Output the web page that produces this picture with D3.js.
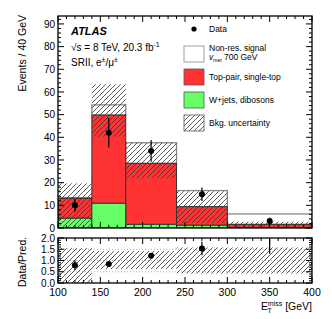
<!DOCTYPE html>
<html><head><meta charset="utf-8">
<script src="https://cdn.jsdelivr.net/npm/d3@7"></script>
<style>
html,body{margin:0;padding:0;background:#fff;}
svg{display:block;font-family:"Liberation Sans",Arial,sans-serif;}
</style></head>
<body><svg id="c" width="332" height="319"></svg>
<script>
// ---- data ----
const binEdges = [100, 140, 180, 240, 300, 400];
const wjets    = [4.3, 10.9, 1.6, 1.2, 0.2];
const topPair  = [8.8, 38.9, 26.9, 8.2, 1.4];
const signal   = [0.3, 4.5, 9.1, 7.1, 4.6];
const bkgUp    = [19.7, 63.4, 37.6, 16.2, 2.8];
const bkgDown  = [0.0, 40.3, 21.9, 2.1, 0.1];
const dataX    = [120, 160, 210, 270, 350];
const dataY    = [10.0, 42.0, 34.0, 14.9, 3.1];
const dataErrUp   = [2.8, 6.5, 4.8, 3.0, 1.4];
const dataErrDown = [2.8, 6.5, 4.8, 3.0, 1.8];
const ratioY      = [0.79, 0.84, 1.21, 1.53, 2.3];
const ratioErr    = [0.22, 0.07, 0.11, 0.30, 1.0];
const ratioBandLo = [0.0, 0.62, 0.62, 0.42, 0.42];
const ratioBandHi = [1.55, 1.42, 1.42, 1.58, 1.58];
const yTicksMain  = [0,10,20,30,40,50,60,70,80,90];
const yTicksRatio = [0.0,0.5,1.0,1.5,2.0];
const xTicks      = [100,150,200,250,300,350,400];

// ---- layout ----
const svg = d3.select("#c");
const L=58, R=312, mT=16, mB=228, rT=238, rB=283;
const x = d3.scaleLinear().domain([100,400]).range([L,R]);
const y = d3.scaleLinear().domain([0,93.5]).range([mB,mT]);
const yr = d3.scaleLinear().domain([0,2]).range([rB,rT]);
const RED="#ff3333", GREEN="#66ff66";

const defs = svg.append("defs");
const pat = defs.append("pattern").attr("id","hatch").attr("patternUnits","userSpaceOnUse")
  .attr("width",5).attr("height",5);
pat.append("path").attr("d","M-1,1 L1,-1 M0,5 L5,0 M4,6 L6,4")
  .attr("stroke","#333").attr("stroke-width",0.8);
defs.append("clipPath").attr("id","clipM").append("rect").attr("x",L).attr("y",mT).attr("width",R-L).attr("height",mB-mT);
defs.append("clipPath").attr("id","clipR").append("rect").attr("x",L).attr("y",rT).attr("width",R-L).attr("height",rB-rT);

const bins = d3.range(5).map(i=>({i, x0:binEdges[i], x1:binEdges[i+1]}));

// ---- main pane ----
const gm = svg.append("g").attr("clip-path","url(#clipM)");
gm.selectAll(".sig").data(bins).join("rect")
  .attr("x",d=>x(d.x0)).attr("width",d=>x(d.x1)-x(d.x0))
  .attr("y",d=>y(wjets[d.i]+topPair[d.i]+signal[d.i]))
  .attr("height",d=>y(wjets[d.i]+topPair[d.i])-y(wjets[d.i]+topPair[d.i]+signal[d.i]))
  .attr("fill","#fff").attr("stroke","#888").attr("stroke-width",1.3);
gm.selectAll(".top").data(bins).join("rect")
  .attr("x",d=>x(d.x0)).attr("width",d=>x(d.x1)-x(d.x0))
  .attr("y",d=>y(wjets[d.i]+topPair[d.i]))
  .attr("height",d=>y(wjets[d.i])-y(wjets[d.i]+topPair[d.i]))
  .attr("fill",RED).attr("stroke","#333").attr("stroke-width",1);
gm.selectAll(".wj").data(bins).join("rect")
  .attr("x",d=>x(d.x0)).attr("width",d=>x(d.x1)-x(d.x0))
  .attr("y",d=>y(wjets[d.i]))
  .attr("height",d=>y(0)-y(wjets[d.i]))
  .attr("fill",GREEN).attr("stroke","#333").attr("stroke-width",1);
gm.selectAll(".unc").data(bins).join("rect")
  .attr("x",d=>x(d.x0)).attr("width",d=>x(d.x1)-x(d.x0))
  .attr("y",d=>y(bkgUp[d.i]))
  .attr("height",d=>y(bkgDown[d.i])-y(bkgUp[d.i]))
  .attr("fill","url(#hatch)");
gm.selectAll(".eb").data(bins).join("line")
  .attr("x1",d=>x(dataX[d.i])).attr("x2",d=>x(dataX[d.i]))
  .attr("y1",d=>y(dataY[d.i]+dataErrUp[d.i])).attr("y2",d=>y(dataY[d.i]-dataErrDown[d.i]))
  .attr("stroke","#000").attr("stroke-width",1.2);
gm.selectAll(".pt").data(bins).join("circle")
  .attr("cx",d=>x(dataX[d.i])).attr("cy",d=>y(dataY[d.i])).attr("r",3).attr("fill","#000");

// ---- ratio pane ----
const gr = svg.append("g").attr("clip-path","url(#clipR)");
[0.5,1.0,1.5].forEach(v=>{
  gr.append("line").attr("x1",L).attr("x2",R).attr("y1",yr(v)).attr("y2",yr(v))
    .attr("stroke","#999").attr("stroke-width",0.8).attr("stroke-dasharray","1,2");
});
gr.selectAll(".runc").data(bins).join("rect")
  .attr("x",d=>x(d.x0)).attr("width",d=>x(d.x1)-x(d.x0))
  .attr("y",d=>yr(ratioBandHi[d.i]))
  .attr("height",d=>yr(ratioBandLo[d.i])-yr(ratioBandHi[d.i]))
  .attr("fill","url(#hatch)");
gr.selectAll(".reb").data(bins).join("line")
  .attr("x1",d=>x(dataX[d.i])).attr("x2",d=>x(dataX[d.i]))
  .attr("y1",d=>yr(ratioY[d.i]+ratioErr[d.i])).attr("y2",d=>yr(ratioY[d.i]-ratioErr[d.i]))
  .attr("stroke","#000").attr("stroke-width",1.2);
gr.selectAll(".rpt").data(bins).join("circle")
  .attr("cx",d=>x(dataX[d.i])).attr("cy",d=>yr(ratioY[d.i])).attr("r",3).attr("fill","#000");

// ---- axes / frames ----
function frame(top,bot,ys,majorY,minorY){
  svg.append("rect").attr("x",L).attr("y",top).attr("width",R-L).attr("height",bot-top)
    .attr("fill","none").attr("stroke","#000").attr("stroke-width",1.3);
  const g = svg.append("g").attr("stroke","#000").attr("stroke-width",1);
  const [d0,d1] = ys.domain();
  const nMin = Math.round((d1-d0)/minorY);
  for(let k=0;k<=nMin;k++){
    const v = d0 + k*minorY; if(v>d1+1e-9) break;
    const isMaj = Math.abs(v/majorY - Math.round(v/majorY))<1e-6;
    const len = isMaj?6:3;
    g.append("line").attr("x1",L).attr("x2",L+len).attr("y1",ys(v)).attr("y2",ys(v));
    g.append("line").attr("x1",R).attr("x2",R-len).attr("y1",ys(v)).attr("y2",ys(v));
  }
  for(let v=100; v<=400; v+=10){
    const isMaj = v%50===0; const len = isMaj?6:3;
    g.append("line").attr("x1",x(v)).attr("x2",x(v)).attr("y1",bot).attr("y2",bot-len);
    g.append("line").attr("x1",x(v)).attr("x2",x(v)).attr("y1",top).attr("y2",top+len);
  }
}
frame(mT,mB,y,10,2);
frame(rT,rB,yr,0.5,0.1);

const tl = svg.append("g").attr("font-size","10px").attr("fill","#000");
tl.selectAll(".ym").data(yTicksMain).join("text")
  .attr("x",L-3).attr("y",d=>y(d)).attr("dy","0.36em").attr("text-anchor","end").text(d=>d);
tl.selectAll(".yr").data(yTicksRatio).join("text")
  .attr("x",L-3).attr("y",d=>yr(d)).attr("dy","0.36em").attr("text-anchor","end").text(d=>d.toFixed(1));
tl.selectAll(".xt").data(xTicks).join("text")
  .attr("x",d=>x(d)).attr("y",rB+13).attr("text-anchor","middle").attr("font-size","10.5px").text(d=>d);

// axis titles
svg.append("text").attr("transform","translate(26,15) rotate(-90)").attr("text-anchor","end")
  .attr("font-size","10.5px").text("Events / 40 GeV");
svg.append("text").attr("transform","translate(26,287) rotate(-90)").attr("text-anchor","start")
  .attr("font-size","10.5px").text("Data/Pred.");
const xt = svg.append("text").attr("x",R).attr("y",310).attr("text-anchor","end").attr("font-size","10.5px");
xt.append("tspan").text("E");
xt.append("tspan").attr("font-size","7px").attr("dy","2.5").attr("dx","-0.5").text("T");
xt.append("tspan").attr("font-size","7px").attr("dy","-7").attr("dx","-4").text("miss");
xt.append("tspan").attr("dy","4.5").text(" [GeV]");

// labels
svg.append("text").attr("x",71).attr("y",35).attr("font-size","11px").attr("font-weight","bold")
  .attr("font-style","italic").text("ATLAS");
const t2 = svg.append("text").attr("x",71).attr("y",51).attr("font-size","10px");
t2.append("tspan").text("√s = 8 TeV, 20.3 fb");
t2.append("tspan").attr("font-size","7px").attr("dy","-4").text("-1");
const t3 = svg.append("text").attr("x",71).attr("y",66).attr("font-size","10px");
t3.append("tspan").text("SRII, e");
t3.append("tspan").attr("font-size","7px").attr("dy","-4").text("±");
t3.append("tspan").attr("dy","4").text("/μ");
t3.append("tspan").attr("font-size","7px").attr("dy","-4").text("±");

// legend
const lg = svg.append("g").attr("font-size","8.5px");
lg.append("circle").attr("cx",194).attr("cy",29).attr("r",2.6).attr("fill","#000");
lg.append("text").attr("x",209).attr("y",32).text("Data");
const boxes = [
  {y:46, fill:"#fff", stroke:"#888"},
  {y:69, fill:RED, stroke:"#555"},
  {y:92, fill:GREEN, stroke:"#555"},
  {y:115, fill:"url(#hatch)", stroke:"#555"}];
boxes.forEach(b=>lg.append("rect").attr("x",184).attr("y",b.y).attr("width",20).attr("height",16)
  .attr("fill",b.fill).attr("stroke",b.stroke).attr("stroke-width",0.8));
lg.append("text").attr("x",209).attr("y",51).text("Non-res. signal");
const s2 = lg.append("text").attr("x",209).attr("y",60);
s2.append("tspan").attr("font-style","italic").text("v");
s2.append("tspan").attr("font-size","5px").attr("dy","1.5").text("met");
s2.append("tspan").attr("dy","-1.5").text(" 700 GeV");
lg.append("text").attr("x",209).attr("y",80).text("Top-pair, single-top");
lg.append("text").attr("x",209).attr("y",103).text("W+jets, dibosons");
lg.append("text").attr("x",209).attr("y",126).text("Bkg. uncertainty");
</script></body></html>
